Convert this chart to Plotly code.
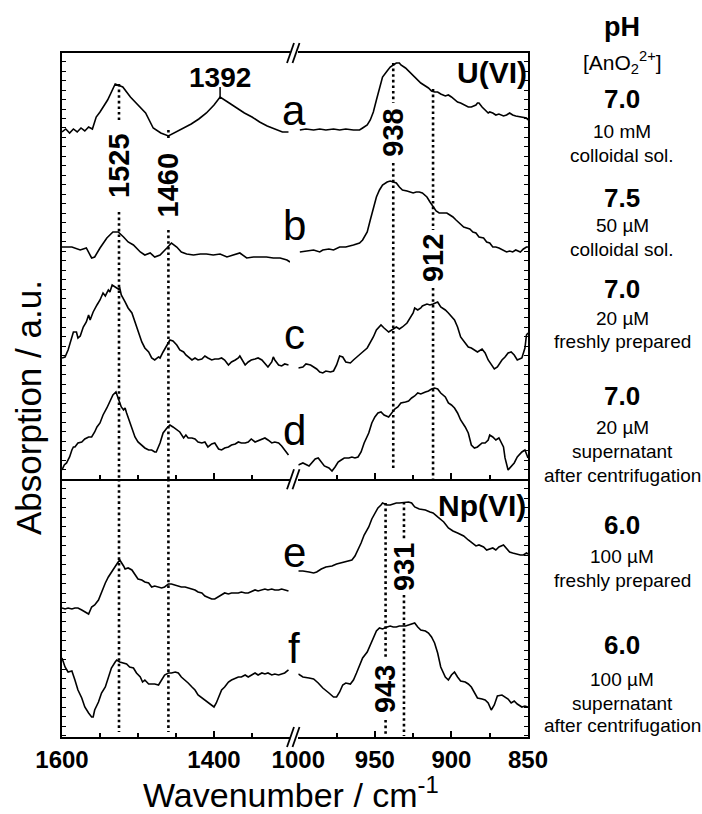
import plotly.graph_objects as go

# ---------------- spectra (wavenumber / cm-1, absorption / a.u. incl. offsets) ----------------
# U(VI) panel, 1600-1300 cm-1 region
a_left_wn = [1600,1595,1590,1585,1580,1575,1570,1565,1560,1555,1550,1540,1530,1520,1510,1500,1490,1480,1470,1460,
             1450,1440,1430,1420,1410,1400,1392,1380,1370,1360,1350,1340,1330,1320,1310,1302]
a_left = [6.04,6.07,6.03,6.07,6.04,6.08,6.05,6.09,6.07,6.19,6.24,6.36,6.52,6.49,6.39,6.31,6.23,6.08,6.03,6.00,
          6.04,6.08,6.12,6.17,6.23,6.31,6.39,6.33,6.28,6.23,6.19,6.14,6.10,6.07,6.04,6.04]

b_left_wn = [1600,1587,1576,1568,1561,1557,1550,1541,1533,1526,1519,1513,1506,1497,1491,1484,1478,1471,1462,1456,
             1449,1443,1436,1427,1418,1410,1401,1392,1383,1375,1366,1357,1348,1339,1331,1322,1313,1304,1300]
b_left = [4.89,4.89,4.86,4.88,4.78,4.79,4.88,4.98,5.04,5.04,4.99,4.94,4.91,4.84,4.81,4.83,4.79,4.81,4.88,4.93,
          4.89,4.84,4.82,4.81,4.82,4.82,4.81,4.82,4.79,4.81,4.83,4.78,4.79,4.79,4.79,4.78,4.78,4.76,4.74]

c_left_wn = [1600,1596,1592,1587,1585,1581,1579,1576,1572,1568,1565,1563,1559,1554,1550,1546,1543,1539,1537,1534,
             1530,1526,1524,1522,1517,1513,1508,1504,1500,1495,1491,1486,1482,1478,1473,1471,1467,1462,1458,1454,
             1449,1445,1440,1437,1434,1429,1425,1421,1416,1412,1408,1403,1399,1394,1390,1386,1381,1377,1372,1368,
             1366,1364,1359,1355,1351,1346,1342,1337,1333,1329,1324,1322,1320,1315,1311,1307,1302]
c_left = [3.78,3.79,3.86,3.99,4.04,4.04,3.98,4.00,4.09,4.14,4.21,4.16,4.24,4.31,4.36,4.43,4.40,4.46,4.44,4.51,
          4.49,4.47,4.48,4.41,4.34,4.28,4.23,4.14,4.03,3.94,3.88,3.84,3.78,3.76,3.79,3.78,3.84,3.91,3.96,3.95,
          3.91,3.86,3.84,3.81,3.79,3.76,3.78,3.76,3.77,3.80,3.78,3.76,3.77,3.77,3.78,3.76,3.71,3.74,3.76,3.78,
          3.80,3.77,3.71,3.74,3.76,3.77,3.78,3.76,3.73,3.69,3.74,3.79,3.76,3.71,3.70,3.72,3.71]

d_left_wn = [1600,1597,1594,1592,1590,1587,1585,1583,1579,1574,1570,1565,1561,1557,1554,1550,1546,1541,1537,1533,
             1529,1527,1524,1522,1519,1517,1515,1512,1508,1504,1500,1495,1491,1486,1482,1478,1476,1471,1467,1462,
             1458,1454,1449,1445,1440,1437,1434,1429,1425,1421,1416,1412,1408,1403,1399,1394,1390,1386,1381,1377,
             1372,1368,1364,1359,1355,1351,1346,1342,1337,1333,1329,1324,1320,1315,1311,1307,1302]
d_left = [2.66,2.71,2.73,2.76,2.79,2.86,2.89,2.89,2.93,2.94,2.97,2.99,2.99,3.04,3.09,3.13,3.21,3.28,3.34,3.41,
          3.44,3.39,3.33,3.29,3.26,3.28,3.23,3.16,3.06,2.99,2.94,2.91,2.88,2.86,2.86,2.84,2.84,2.93,3.03,3.08,
          3.11,3.09,3.06,3.04,2.98,3.01,2.98,2.98,2.97,2.94,2.93,2.94,2.89,2.92,2.93,2.87,2.86,2.88,2.89,2.91,
          2.92,2.94,2.93,2.93,2.94,2.97,2.94,2.95,2.97,2.98,2.96,2.93,2.94,2.93,2.90,2.86,2.81]

# U(VI) panel, 1000-850 cm-1 region
a_right_wn = [999,995,990,986,982,977,973,969,964,960,958,955,953,951,949,947,945,942,940,938,
              936,934,933,930,928,926,924,922,920,917,915,913,911,909,907,904,902,900,898,896,
              894,891,889,887,885,884,883,882,880,878,876,875,873,871,869,866,864,862,860,858,
              855,853,851,850]
a_right = [6.06,6.07,6.06,6.07,6.06,6.07,6.06,6.07,6.06,6.06,6.08,6.11,6.16,6.24,6.36,6.49,6.59,6.65,6.69,6.71,
           6.73,6.73,6.71,6.68,6.65,6.63,6.59,6.56,6.53,6.50,6.48,6.45,6.44,6.44,6.42,6.40,6.41,6.39,6.36,6.34,
           6.33,6.31,6.29,6.29,6.30,6.31,6.33,6.33,6.29,6.26,6.23,6.24,6.23,6.21,6.22,6.20,6.21,6.23,6.21,6.20,
           6.19,6.18,6.18,6.16]

b_right_wn = [999,995,990,986,984,980,977,973,969,964,960,958,955,953,951,949,947,945,942,940,
              938,936,934,932,929,927,925,923,921,919,916,914,912,910,908,905,903,901,899,897,
              895,892,890,888,886,884,882,879,877,875,873,871,869,866,864,862,860,858,855,853,
              851,850]
b_right = [4.84,4.85,4.86,4.84,4.86,4.87,4.86,4.89,4.89,4.91,4.93,4.96,5.04,5.16,5.28,5.39,5.46,5.51,5.54,5.55,
           5.54,5.53,5.49,5.46,5.45,5.44,5.43,5.44,5.44,5.43,5.39,5.34,5.29,5.25,5.23,5.23,5.23,5.21,5.19,5.16,
           5.13,5.09,5.08,5.07,5.04,5.03,4.99,4.98,4.94,4.93,4.89,4.89,4.88,4.86,4.84,4.85,4.84,4.86,4.84,4.87,
           4.89,4.89]

c_right_wn = [1000,997,995,992,990,988,986,984,982,979,977,975,973,971,969,966,964,962,960,958,
              955,953,951,949,947,946,944,941,939,937,936,934,932,929,927,925,924,922,920,919,
              916,914,912,910,909,907,904,902,900,898,896,894,891,889,887,885,883,880,878,876,
              874,872,870,867,865,863,861,859,857,854,852,851,850]
c_right = [3.68,3.69,3.72,3.71,3.69,3.67,3.64,3.63,3.65,3.64,3.65,3.71,3.80,3.79,3.74,3.73,3.76,3.79,3.82,3.84,
           3.88,3.93,3.99,4.06,4.10,4.11,4.08,4.04,4.06,4.08,4.09,4.07,4.09,4.13,4.18,4.23,4.28,4.26,4.28,4.30,
           4.32,4.31,4.32,4.33,4.34,4.29,4.26,4.23,4.19,4.16,4.09,3.99,3.93,3.89,3.88,3.86,3.84,3.87,3.83,3.76,
           3.71,3.67,3.69,3.76,3.79,3.83,3.84,3.81,3.76,3.78,3.88,4.01,4.03]

d_right_wn = [1000,997,993,991,989,987,985,983,980,978,976,974,972,970,967,965,963,961,959,957,
              954,952,950,948,946,944,941,939,937,935,933,930,928,926,924,922,920,917,915,913,
              911,909,907,904,902,900,898,896,894,891,889,887,885,883,880,878,876,875,873,871,
              869,866,865,863,861,859,857,854,852,851,850]
d_right = [2.71,2.73,2.70,2.73,2.77,2.78,2.74,2.70,2.68,2.65,2.69,2.74,2.76,2.78,2.78,2.79,2.78,2.79,2.84,2.93,
           3.03,3.13,3.19,3.23,3.24,3.21,3.19,3.23,3.27,3.29,3.33,3.34,3.35,3.38,3.40,3.43,3.42,3.44,3.45,3.47,
           3.48,3.47,3.43,3.39,3.33,3.31,3.28,3.23,3.16,3.09,3.03,2.91,2.88,2.89,2.93,2.93,2.96,3.01,2.99,2.96,
           2.98,2.89,2.78,2.66,2.69,2.73,2.79,2.84,2.86,2.81,2.78]

# Np(VI) panel, 1600-1300 cm-1 region
e_left_wn = [1600,1596,1592,1587,1583,1579,1574,1570,1565,1561,1557,1552,1548,1543,1539,1535,1530,1527,1524,1522,
             1519,1517,1513,1508,1504,1500,1495,1491,1486,1482,1478,1473,1469,1465,1460,1456,1451,1447,1443,1438,
             1434,1429,1425,1421,1416,1412,1408,1403,1399,1394,1390,1386,1381,1377,1372,1368,1364,1359,1355,1351,
             1346,1342,1337,1333,1329,1324,1320,1315,1311,1307,1302]
e_left = [1.28,1.27,1.28,1.27,1.28,1.28,1.26,1.24,1.22,1.29,1.31,1.36,1.44,1.53,1.59,1.64,1.69,1.73,1.76,1.74,
          1.70,1.67,1.68,1.66,1.61,1.57,1.56,1.54,1.53,1.49,1.50,1.49,1.48,1.49,1.52,1.52,1.51,1.50,1.49,1.49,
          1.48,1.47,1.46,1.44,1.43,1.40,1.39,1.37,1.37,1.39,1.41,1.43,1.42,1.43,1.43,1.43,1.44,1.43,1.43,1.44,
          1.46,1.45,1.46,1.47,1.46,1.47,1.46,1.46,1.47,1.46,1.45]

f_left_wn = [1600,1596,1592,1587,1583,1579,1574,1570,1565,1561,1559,1557,1552,1548,1543,1539,1535,1530,1528,1524,
             1519,1515,1511,1506,1502,1497,1494,1491,1486,1482,1478,1473,1469,1465,1460,1456,1451,1447,1443,1438,
             1434,1429,1425,1421,1416,1412,1408,1403,1400,1397,1394,1390,1386,1381,1377,1372,1368,1364,1359,1355,
             1351,1346,1342,1337,1333,1329,1324,1320,1315,1311,1307,1302]
f_left = [0.78,0.69,0.64,0.65,0.56,0.46,0.38,0.29,0.23,0.19,0.19,0.26,0.34,0.43,0.49,0.59,0.68,0.74,0.76,0.74,
          0.73,0.72,0.69,0.68,0.63,0.59,0.54,0.56,0.52,0.52,0.52,0.51,0.56,0.61,0.63,0.63,0.64,0.63,0.59,0.56,
          0.53,0.49,0.46,0.41,0.38,0.36,0.33,0.30,0.29,0.33,0.39,0.46,0.49,0.54,0.56,0.58,0.59,0.59,0.61,0.59,
          0.61,0.63,0.61,0.63,0.62,0.63,0.61,0.62,0.61,0.62,0.63,0.66]

# Np(VI) panel, 1000-850 cm-1 region
e_right_wn = [1000,997,993,990,988,985,982,978,975,972,969,965,963,961,959,957,954,952,950,948,
              946,945,942,940,938,936,934,930,928,926,924,921,917,914,912,909,905,902,899,896,
              892,889,886,884,882,879,877,875,873,871,869,866,864,862,860,858,855,853,851,850]
e_right = [1.65,1.65,1.64,1.63,1.64,1.67,1.69,1.70,1.72,1.73,1.74,1.76,1.80,1.86,1.93,2.01,2.09,2.17,2.23,2.28,
           2.31,2.33,2.31,2.31,2.32,2.33,2.33,2.34,2.34,2.33,2.29,2.27,2.26,2.24,2.23,2.19,2.14,2.08,2.05,2.03,
           2.00,1.96,1.92,1.90,1.91,1.89,1.86,1.87,1.88,1.86,1.89,1.91,1.88,1.84,1.83,1.82,1.81,1.81,1.83,1.82]

f_right_wn = [1000,997,993,990,987,984,980,977,975,973,971,969,966,964,962,960,958,955,953,951,
              949,947,945,942,940,938,936,934,930,928,926,924,922,920,917,915,913,911,909,907,
              904,902,900,898,896,894,891,889,887,885,883,880,878,876,874,872,870,867,865,863,
              861,859,857,854,852,850]
f_right = [0.62,0.59,0.58,0.57,0.53,0.48,0.43,0.39,0.39,0.44,0.51,0.53,0.52,0.56,0.63,0.71,0.78,0.84,0.91,0.99,
           1.05,1.08,1.07,1.09,1.10,1.09,1.09,1.10,1.10,1.11,1.12,1.13,1.09,1.06,1.05,1.03,0.99,0.93,0.83,0.69,
           0.59,0.56,0.61,0.64,0.59,0.55,0.54,0.52,0.49,0.43,0.38,0.37,0.36,0.33,0.26,0.31,0.40,0.41,0.39,0.37,
           0.33,0.35,0.32,0.29,0.30,0.29]

# ---------------- band assignments (dotted markers, broken around their labels) ----------------
# (wavenumber, label, label height, [(y from, y to), ...], panel)
bands = [
    (1525, "1525", 5.70, [(6.52, 6.16), (5.24, 2.57)], "UL"),
    (1525, None, None, [(2.57, 0.04)], "NL"),
    (1460, "1460", 5.51, [(6.06, 5.98), (5.06, 2.57)], "UL"),
    (1460, None, None, [(2.57, 0.04)], "NL"),
    (938, "938", 6.035, [(6.73, 6.33), (5.73, 2.68)], "UR"),
    (912, "912", 4.78, [(6.47, 5.06), (4.48, 2.57)], "UR"),
    (943, "943", 0.465, [(2.33, 0.79), (0.16, 0.0)], "NR"),
    (931, "931", 1.69, [(2.34, 1.96), (1.41, 0.0)], "NR"),
]
peak_1392 = (1392, 6.39, 6.49, 6.59)   # band, curve top, tick top, label height

panel_axes = {"UL": ("x", "y"), "UR": ("x2", "y"), "NL": ("x3", "y2"), "NR": ("x4", "y4")}

spectra = [
    (a_left_wn, a_left, "UL"), (b_left_wn, b_left, "UL"), (c_left_wn, c_left, "UL"), (d_left_wn, d_left, "UL"),
    (a_right_wn, a_right, "UR"), (b_right_wn, b_right, "UR"), (c_right_wn, c_right, "UR"), (d_right_wn, d_right, "UR"),
    (e_left_wn, e_left, "NL"), (f_left_wn, f_left, "NL"),
    (e_right_wn, e_right, "NR"), (f_right_wn, f_right, "NR"),
]

# sample conditions printed on the right
conditions = [
    ("7.0", ["10 mM", "colloidal sol."], [99, 132, 156]),
    ("7.5", ["50 µM", "colloidal sol."], [198, 226, 249]),
    ("7.0", ["20 µM", "freshly prepared"], [289, 318, 341]),
    ("7.0", ["20 µM", "supernatant", "after centrifugation"], [396, 427, 452, 475]),
    ("6.0", ["100 µM", "freshly prepared"], [525, 556, 580]),
    ("6.0", ["100 µM", "supernatant", "after centrifugation"], [645, 679, 703, 725]),
]
curve_letters = [("a", 110), ("b", 225), ("c", 335), ("d", 430), ("e", 552), ("f", 648)]

# ---------------- figure geometry ----------------
W, H = 702, 814
ML, MR, MT, MB = 62, 174, 53, 77
PW, PH = W - ML - MR, H - MT - MB
SPLIT = 0.3768          # Np(VI) panel occupies the lower part
XL_DOM = [0, 0.4893]
XR_DOM = [0.5071, 1]
Y_TOP = [2.567, 6.83]
Y_BOT = [-0.01, 2.567]

FONT = "Liberation Sans, Arial, sans-serif"


def px(xp):
    return (xp - ML) / PW


def py(yp):
    return (MT + PH - yp) / PH


fig = go.Figure()

for wn, val, panel in spectra:
    xa, ya = panel_axes[panel]
    fig.add_trace(go.Scatter(x=wn, y=val, mode="lines", xaxis=xa, yaxis=ya,
                             line=dict(color="black", width=1.6), hoverinfo="skip", showlegend=False))

annotations = []
for wn, label, ylab, segs, panel in bands:
    xa, ya = panel_axes[panel]
    for y0, y1 in segs:
        fig.add_trace(go.Scatter(x=[wn, wn], y=[y0, y1], mode="lines", xaxis=xa, yaxis=ya,
                                 line=dict(color="black", width=2.6, dash="2.6px,3px"),
                                 hoverinfo="skip", showlegend=False))
    if label:
        annotations.append(dict(text=label, x=wn, y=ylab, xref=xa, yref=ya, textangle=-90,
                                showarrow=False, xanchor="center", yanchor="middle",
                                font=dict(family=FONT, size=29, color="black", weight="bold")))

# 1392 band: short tick above the maximum and a horizontal label
fig.add_trace(go.Scatter(x=[peak_1392[0]] * 2, y=[peak_1392[1], peak_1392[2]], mode="lines",
                         xaxis="x", yaxis="y", line=dict(color="black", width=1.5),
                         hoverinfo="skip", showlegend=False))
annotations.append(dict(text="1392", x=peak_1392[0], y=peak_1392[3], xref="x", yref="y",
                        showarrow=False, xanchor="center", yanchor="middle",
                        font=dict(family=FONT, size=28, color="black", weight="bold")))

# invisible trace so the upper right-hand frame axis is drawn
fig.add_trace(go.Scatter(x=[None], y=[None], xaxis="x2", yaxis="y3", showlegend=False, hoverinfo="skip"))

for letter, yc in curve_letters:
    annotations.append(dict(text=letter, x=px(294), y=py(yc), xref="paper", yref="paper", showarrow=False,
                            xanchor="center", yanchor="middle",
                            font=dict(family=FONT, size=42, color="black")))

annotations.append(dict(text="U(VI)", x=px(492), y=py(72), xref="paper", yref="paper", showarrow=False,
                        xanchor="center", yanchor="middle",
                        font=dict(family=FONT, size=30, color="black", weight="bold")))
annotations.append(dict(text="Np(VI)", x=px(482), y=py(505), xref="paper", yref="paper", showarrow=False,
                        xanchor="center", yanchor="middle",
                        font=dict(family=FONT, size=30, color="black", weight="bold")))

XC = px(622)
annotations.append(dict(text="pH", x=XC, y=py(27), xref="paper", yref="paper", showarrow=False,
                        xanchor="center", yanchor="middle",
                        font=dict(family=FONT, size=27, color="black", weight="bold")))
annotations.append(dict(text="[AnO<sub>2</sub><sup>2+</sup>]", x=XC, y=py(62), xref="paper", yref="paper",
                        showarrow=False, xanchor="center", yanchor="middle",
                        font=dict(family=FONT, size=21, color="black")))
for ph, lines, ys in conditions:
    annotations.append(dict(text=ph, x=XC, y=py(ys[0]), xref="paper", yref="paper", showarrow=False,
                            xanchor="center", yanchor="middle",
                            font=dict(family=FONT, size=26, color="black", weight="bold")))
    for t, yy in zip(lines, ys[1:]):
        annotations.append(dict(text=t, x=XC, y=py(yy), xref="paper", yref="paper", showarrow=False,
                                xanchor="center", yanchor="middle",
                                font=dict(family=FONT, size=19, color="black")))

annotations.append(dict(text="Wavenumber / cm<sup>-1</sup>", x=px(291), y=py(792), xref="paper", yref="paper",
                        showarrow=False, xanchor="center", yanchor="middle",
                        font=dict(family=FONT, size=34, color="black")))
annotations.append(dict(text="Absorption / a.u.", x=px(28), y=py(408), xref="paper", yref="paper",
                        showarrow=False, xanchor="center", yanchor="middle", textangle=-90,
                        font=dict(family=FONT, size=35, color="black")))

# axis break marks on the three horizontal frame lines
shapes = []
for ybase in (53, 479.3, 737):
    for dx in (0, 5.5):
        shapes.append(dict(type="line", xref="paper", yref="paper",
                           x0=px(287 + dx), y0=py(ybase + 10), x1=px(294 + dx), y1=py(ybase - 10),
                           line=dict(color="black", width=1.8)))

tickfont = dict(family=FONT, size=24, color="black", weight="bold")
base_x = dict(showline=True, linecolor="black", linewidth=2, showgrid=False, zeroline=False,
              ticks="inside", ticklen=6, tickwidth=1.5, tickcolor="black")
base_y = dict(showline=True, linecolor="black", linewidth=2, showgrid=False, zeroline=False,
              ticks="inside", ticklen=4, tickwidth=1, tickcolor="black", showticklabels=False,
              dtick=0.095, tick0=0)

fig.update_layout(
    width=W, height=H, margin=dict(l=ML, r=MR, t=MT, b=MB),
    paper_bgcolor="white", plot_bgcolor="white", showlegend=False,
    xaxis=dict(base_x, domain=XL_DOM, range=[1600, 1300], anchor="y", tickvals=[1600, 1400],
               showticklabels=False, mirror=True, minor=dict(dtick=50, ticks="inside", ticklen=4)),
    xaxis2=dict(base_x, domain=XR_DOM, range=[1000, 850], anchor="y", tickvals=[1000, 950, 900, 850],
                showticklabels=False, mirror=True, minor=dict(dtick=25, ticks="inside", ticklen=4)),
    xaxis3=dict(base_x, domain=XL_DOM, range=[1600, 1300], anchor="y2", tickvals=[1600, 1400],
                tickfont=tickfont, minor=dict(dtick=50, ticks="inside", ticklen=4)),
    xaxis4=dict(base_x, domain=XR_DOM, range=[1000, 850], anchor="y4", tickvals=[1000, 950, 900, 850],
                tickfont=tickfont, minor=dict(dtick=25, ticks="inside", ticklen=4)),
    yaxis=dict(base_y, domain=[SPLIT, 1], range=Y_TOP, anchor="x"),
    yaxis2=dict(base_y, domain=[0, SPLIT], range=Y_BOT, anchor="x3"),
    yaxis3=dict(base_y, domain=[SPLIT, 1], range=Y_TOP, anchor="x2", side="right", overlaying="y"),
    yaxis4=dict(base_y, domain=[0, SPLIT], range=Y_BOT, anchor="x4", side="right"),
    annotations=annotations,
    shapes=shapes,
)

fig.write_html("out.html")
